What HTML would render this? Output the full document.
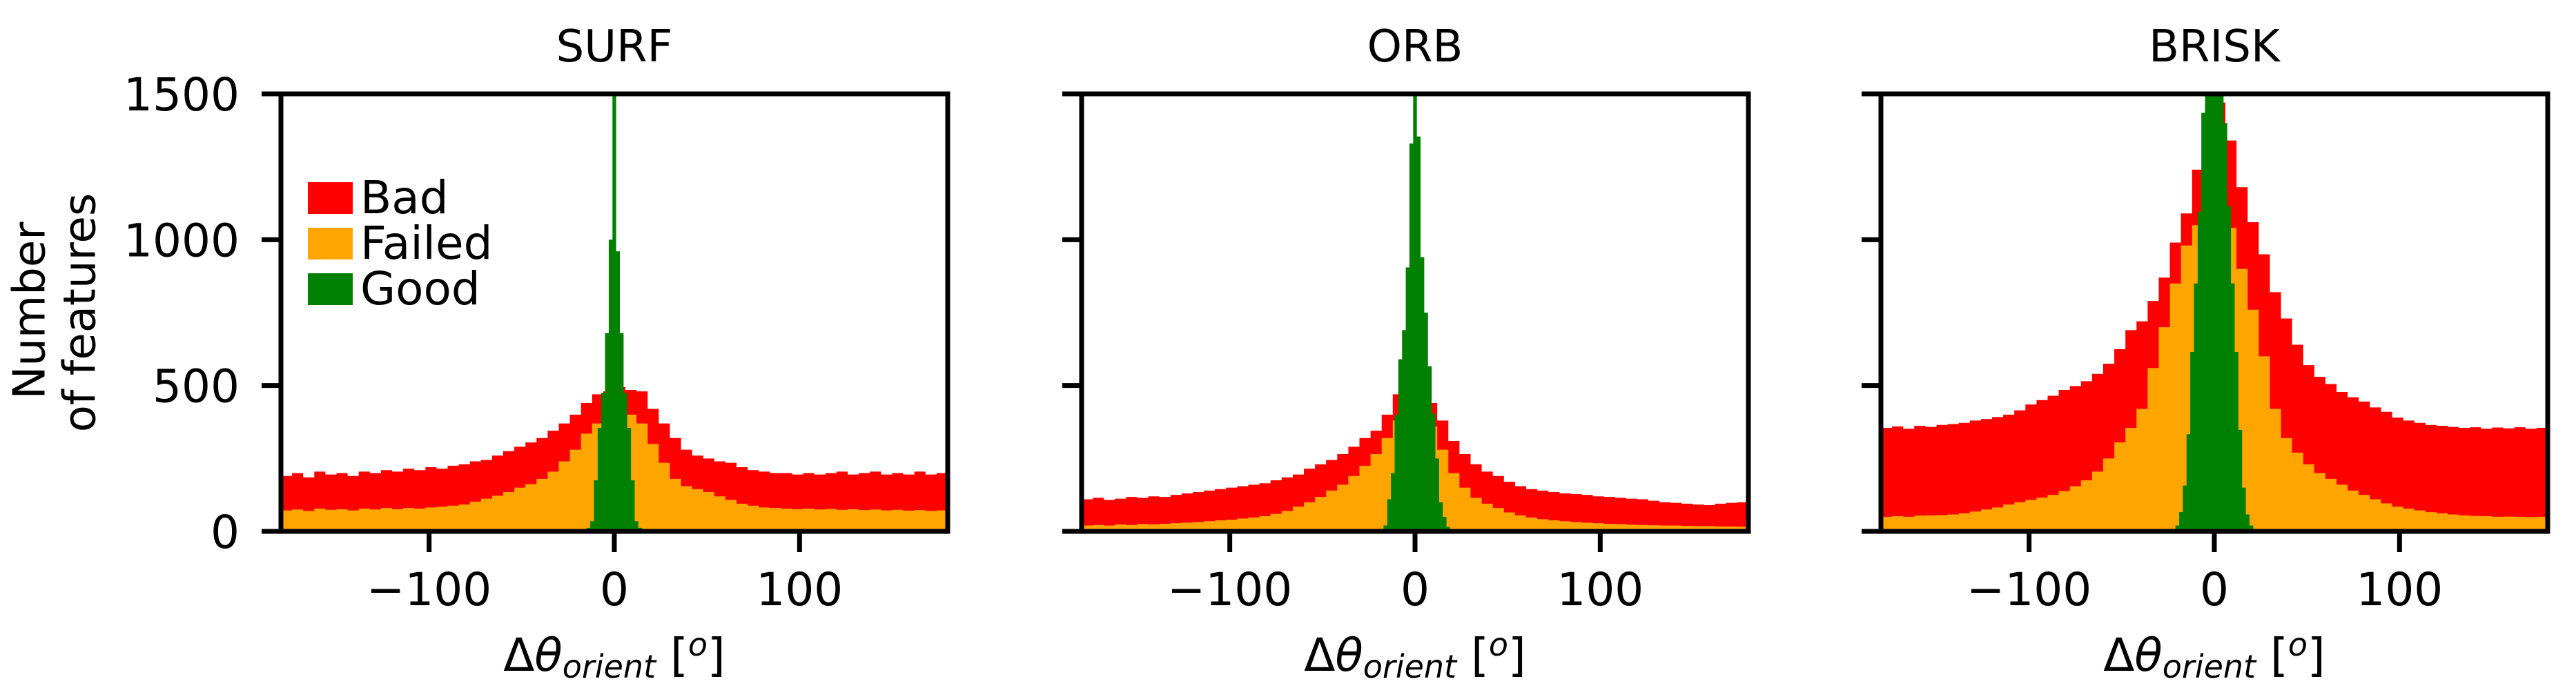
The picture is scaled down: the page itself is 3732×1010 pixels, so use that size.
<!DOCTYPE html>
<html><head><meta charset="utf-8"><style>
html,body{margin:0;padding:0;background:#fff;}
svg{display:block;font-family:"DejaVu Sans","Liberation Sans",sans-serif;}
</style></head><body>
<svg id="chart" width="3732" height="1010" viewBox="0 0 3732 1010" xmlns="http://www.w3.org/2000/svg">
<text x="47" y="450" font-size="64" text-anchor="middle" dominant-baseline="middle" transform="rotate(-90 47 450)">Number</text>
<text x="120" y="453" font-size="64" text-anchor="middle" dominant-baseline="middle" transform="rotate(-90 120 453)">of features</text>
</svg>
<script>
const panelTitles = ["SURF","ORB","BRISK"];
const yTicks = [0,500,1000,1500];
const xTicks = [-100,0,100];
const xTickLabels = ["\u2212100","0","100"];
const binWidth = 6;
const greenBinWidth = 2;
const greenStart = -23;
const surfBad = [190,200,185,205,195,200,190,205,200,210,205,215,210,220,215,225,230,240,245,260,275,290,305,320,345,370,400,440,470,480,
495,485,480,420,370,320,280,260,250,240,235,220,210,205,200,200,195,200,195,200,205,195,200,205,195,200,195,205,195,200];
const surfFailed = [72,75,70,78,74,76,72,78,75,80,76,80,78,82,85,88,92,102,112,122,135,150,162,180,205,240,280,335,370,390,
400,400,370,300,235,180,155,145,135,120,108,95,88,82,80,78,76,78,75,77,74,76,73,75,72,74,71,73,70,72];
const surfGood = [0,0,3,8,12,35,175,355,475,680,1000,1600,960,680,475,355,175,35,12,8,3,0,0];
const orbBad = [110,115,108,112,118,115,120,118,125,130,135,140,145,150,155,160,165,175,185,195,215,230,245,265,290,320,345,400,470,480,
470,440,380,310,265,230,205,190,170,155,145,140,135,130,128,125,120,118,115,112,110,105,100,98,95,92,90,95,98,100];
const orbFailed = [20,22,20,24,22,25,24,26,28,30,32,35,38,40,44,48,52,60,70,85,100,118,140,160,190,225,265,320,380,400,
390,360,280,200,150,115,95,80,65,55,48,42,38,35,32,30,28,26,25,23,22,21,20,20,19,18,18,17,17,16];
const orbGood = [0,0,5,20,110,200,400,590,690,905,1330,1700,1354,940,750,566,404,250,100,50,15,0,0];
const briskBad = [355,360,352,362,358,365,368,372,380,385,392,400,415,435,450,465,485,498,515,540,575,625,690,720,790,870,990,1090,1240,1420,
1470,1340,1180,1060,950,820,730,640,570,530,505,478,460,445,425,410,390,380,372,365,362,358,355,357,352,356,353,357,352,355];
const briskFailed = [50,52,50,54,55,56,58,62,68,75,82,92,100,108,116,125,138,155,175,205,250,305,355,420,560,700,850,980,1050,1100,
1100,1040,900,760,600,420,320,270,230,200,180,160,140,125,110,96,85,78,72,66,62,58,55,53,52,50,51,50,49,50];
const briskGood = [8,20,66,157,333,615,850,1096,1435,1600,1600,1600,1600,1600,1400,1115,850,615,348,150,58,20,5];

const panels = [
  {title: panelTitles[0], left: 407, bad: surfBad, failed: surfFailed, good: surfGood},
  {title: panelTitles[1], left: 1567, bad: orbBad, failed: orbFailed, good: orbGood},
  {title: panelTitles[2], left: 2725, bad: briskBad, failed: briskFailed, good: briskGood}
];
const W = 966, TOP = 136, BOT = 770;
const NS = "http://www.w3.org/2000/svg";
const svg = document.getElementById('chart');
function mk(tag, attrs, parent){ const e=document.createElementNS(NS,tag); for(const k in attrs) e.setAttribute(k,attrs[k]); (parent||svg).appendChild(e); return e; }

const defs = mk('defs',{});
panels.forEach((p, pi) => {
  const xs = d => p.left + (d + 180) / 360 * W;
  const ys = v => BOT - v / 1500 * (BOT - TOP);
  const cp = mk('clipPath',{id:'clip'+pi}, defs);
  mk('rect',{x:p.left,y:TOP,width:W,height:BOT-TOP}, cp);
  const g = mk('g',{'clip-path':'url(#clip'+pi+')'});
  
  
  const drawSeries = (vals, start, bw, color, name) => {
    let d = 'M' + xs(start) + ' ' + BOT;
    vals.forEach((v, i) => {
      const x0 = xs(start + i*bw), x1 = xs(start + (i+1)*bw), y = ys(v);
      d += ' L' + x0 + ' ' + y + ' L' + x1 + ' ' + y;
    });
    d += ' L' + xs(start + vals.length*bw) + ' ' + BOT + ' Z';
    const path = mk('path',{d:d, fill:color}, g);
    
    
  };
  drawSeries(p.bad, -180, binWidth, '#ff0000', 'bad');
  drawSeries(p.failed, -180, binWidth, '#ffa500', 'failed');
  drawSeries(p.good, greenStart, greenBinWidth, '#008000', 'good');

  const frame = mk('rect',{x:p.left,y:TOP,width:W,height:BOT-TOP,fill:'none',stroke:'#000','stroke-width':7});
  
  

  yTicks.forEach(v => {
    const t = mk('line',{x1:p.left-28,x2:p.left,y1:ys(v),y2:ys(v),stroke:'#000','stroke-width':7});
    
    
    if (pi === 0) {
      const l = mk('text',{x:347,y:ys(v)+24,'font-size':66,'text-anchor':'end'});
      l.textContent = String(v);
      
      
    }
  });
  xTicks.forEach((v, i) => {
    const t = mk('line',{x1:xs(v),x2:xs(v),y1:BOT,y2:BOT+30,stroke:'#000','stroke-width':7});
    
    
    const l = mk('text',{x:xs(v),y:877,'font-size':66,'text-anchor':'middle'});
    l.textContent = xTickLabels[i];
    
    
  });
  const cx = p.left + W/2;
  const tt = mk('text',{x:cx,y:89,'font-size':64,'text-anchor':'middle'});
  tt.textContent = p.title;
  
  
  const xl = mk('text',{x:cx,y:972,'font-size':66,'text-anchor':'middle'});
  
  
  const s1 = mk('tspan',{}, xl); s1.textContent = 'Δ';
  const s2 = mk('tspan',{'font-style':'italic'}, xl); s2.textContent = 'θ';
  const s3 = mk('tspan',{'font-style':'italic','font-size':46,dy:10}, xl); s3.textContent = 'orient';
  const s4 = mk('tspan',{dy:-10}, xl); s4.textContent = ' [';
  const s5 = mk('tspan',{'font-style':'italic','font-size':46,dy:-22}, xl); s5.textContent = 'o';
  const s6 = mk('tspan',{dy:22}, xl); s6.textContent = ']';
});

const legendLabels = ["Bad","Failed","Good"];
const legendColors = ["#ff0000","#ffa500","#008000"];
legendLabels.forEach((lab, i) => {
  const y = 264 + i*66;
  const r = mk('rect',{x:446,y:y,width:65,height:46,fill:legendColors[i]});
  
  
  const t = mk('text',{x:522,y:y+45,'font-size':66});
  t.textContent = lab;
  
  
});
</script>
</body></html>
